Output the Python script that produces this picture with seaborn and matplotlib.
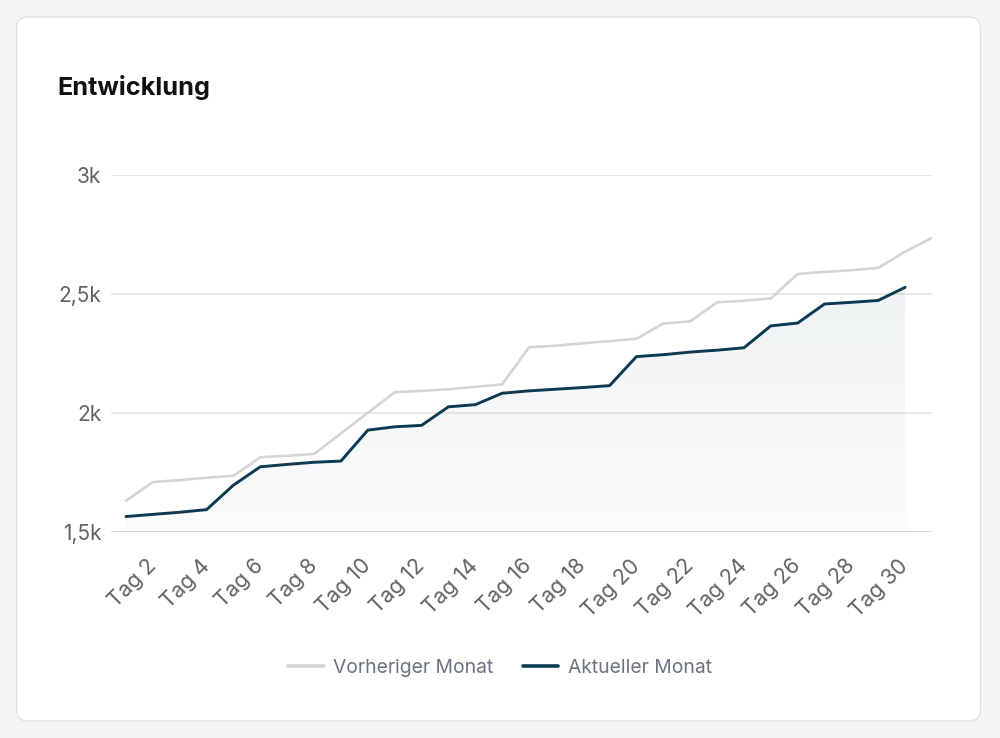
import numpy as np
import pandas as pd
import matplotlib.pyplot as plt
import seaborn as sns
from matplotlib.patches import FancyBboxPatch
from matplotlib.lines import Line2D
from matplotlib.transforms import ScaledTranslation

# values (cumulative per day)
days_prev = list(range(1, 32))
prev_month = [1631, 1710, 1718, 1728, 1736, 1814, 1820, 1828, 1914, 2001,
              2087, 2093, 2100, 2110, 2120, 2276, 2283, 2293, 2302, 2312,
              2376, 2385, 2465, 2472, 2481, 2584, 2593, 2600, 2610, 2678, 2736]
days_curr = list(range(1, 31))
curr_month = [1565, 1574, 1583, 1594, 1697, 1774, 1784, 1793, 1798, 1928,
              1942, 1948, 2026, 2035, 2083, 2093, 2100, 2107, 2115, 2237,
              2245, 2256, 2264, 2274, 2366, 2378, 2458, 2465, 2473, 2528]
tick_days = [2, 4, 6, 8, 10, 12, 14, 16, 18, 20, 22, 24, 26, 28, 30]
tick_labels = ['Tag ' + str(d) for d in tick_days]
y_ticks = [1500, 2000, 2500, 3000]
y_labels = ['1,5k', '2k', '2,5k', '3k']
series_names = ['Vorheriger Monat', 'Aktueller Monat']

GRAY = '#d4d4d8'
DARK = '#0c3a52'
TEXT = '#6b7280'

sns.set_theme(style='white')
plt.rcParams['font.family'] = ['Inter', 'DejaVu Sans']

fig = plt.figure(figsize=(10, 7.38), dpi=100)
fig.patch.set_facecolor('#f4f5f7')

# white card behind the chart
card = FancyBboxPatch((0.165, 0.17), 9.64, 7.04,
                      boxstyle='round,pad=0,rounding_size=0.11',
                      transform=fig.dpi_scale_trans, facecolor='white',
                      edgecolor='#dfe1e5', linewidth=1.0, zorder=-1)
fig.patches.append(card)

fig.text(0.057, 1 - 88 / 738, 'Entwicklung', fontsize=18.2, fontweight='bold',
         color='#111111', va='center', ha='left')

ax = fig.add_axes([0.111, 1 - 532 / 738, 0.932 - 0.111, (532 - 175) / 738])
ax.set_facecolor('none')

prev_df = pd.DataFrame({'tag': days_prev, 'wert': prev_month})
curr_df = pd.DataFrame({'tag': days_curr, 'wert': curr_month})

# gradient fill under the current month
poly = ax.fill_between(curr_df.tag, curr_df.wert, 1500, color='none', lw=0)
grad = np.zeros((200, 1, 4))
grad[..., :3] = [12 / 255, 58 / 255, 82 / 255]
grad[:, 0, 3] = np.linspace(0.085, 0.02, 200)
img = ax.imshow(grad, extent=[1, 30, 1500, 3000], origin='upper',
                aspect='auto', zorder=1, interpolation='bilinear')
img.set_clip_path(poly.get_paths()[0], transform=ax.transData)

sns.lineplot(data=prev_df, x='tag', y='wert', color=GRAY, lw=1.9, ax=ax, zorder=2)
sns.lineplot(data=curr_df, x='tag', y='wert', color=DARK, lw=2.1, ax=ax, zorder=3)

ax.set_xlim(1 - 15 / 26.87, 31)
ax.set_ylim(1500, 3000)
ax.set_yticks(y_ticks)
ax.set_yticklabels(y_labels)
ax.set_xticks(tick_days)
ax.set_xticklabels(tick_labels, rotation=45, ha='right', rotation_mode='anchor')
ax.set_xlabel('')
ax.set_ylabel('')
ax.tick_params(axis='y', length=0, pad=7, labelsize=15, labelcolor='#626262')
ax.tick_params(axis='x', length=0, pad=17, labelsize=15.5, labelcolor='#626262')
shift = ScaledTranslation(-7 / 100, 0, fig.dpi_scale_trans)
for lab in ax.get_xticklabels():
    lab.set_transform(lab.get_transform() + shift)
for y in y_ticks:
    ax.axhline(y, color='#cfcfcf' if y == 1500 else '#e3e3e3', lw=1.1, zorder=0.5)
for s in ax.spines.values():
    s.set_visible(False)

handles = [Line2D([], [], color=GRAY, lw=2.6), Line2D([], [], color=DARK, lw=2.6)]
leg = fig.legend(handles, series_names, loc='center', ncol=2,
                 bbox_to_anchor=(0.5, 1 - 668 / 738), frameon=False,
                 fontsize=13.9, handlelength=1.85, handletextpad=0.5,
                 columnspacing=1.5)
for t in leg.get_texts():
    t.set_color(TEXT)

fig.savefig('out.png', dpi=100, facecolor=fig.get_facecolor())
